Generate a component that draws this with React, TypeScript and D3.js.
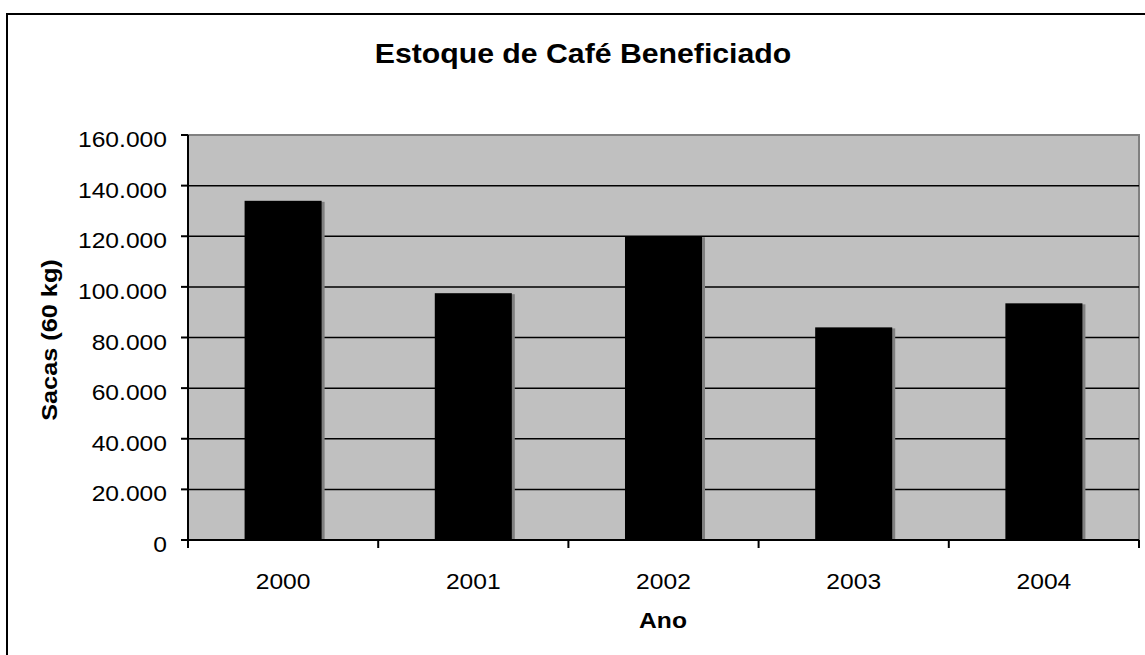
import React from "react";
import * as d3 from "d3";

const categories = ["2000", "2001", "2002", "2003", "2004"];
const values = [134000, 97500, 120000, 84000, 93500];
const yTicks = [0, 20000, 40000, 60000, 80000, 100000, 120000, 140000, 160000];

const W = 1145, H = 655;
const left = 188, right = 1139, top = 135, bottom = 540;

const fmt = (v: number) => (v === 0 ? "0" : d3.format(",")(v).replace(/,/g, "."));

function T(props: { x: number; y: number; sx?: number; rot?: number; size: number; bold?: boolean; anchor?: string; children: React.ReactNode }) {
  const { x, y, sx = 1, rot = 0, size, bold, anchor = "middle", children } = props;
  return (
    <text
      transform={`translate(${x},${y}) rotate(${rot}) scale(${sx},1)`}
      textAnchor={anchor}
      fontSize={size}
      fontWeight={bold ? "bold" : "normal"}
    >
      {children}
    </text>
  );
}

export default function App() {
  const x = d3.scaleBand<string>().domain(categories).range([left, right]).paddingInner(0.595).paddingOuter(0.2975);
  const xb = d3.scaleBand<string>().domain(categories).range([left, right]);
  const y = d3.scaleLinear().domain([0, 160000]).range([bottom, top]);
  const font = "Arial, 'Liberation Sans', sans-serif";
  return (
    <svg width={W} height={H} style={{ position: "absolute", left: 0, top: 0 }} fontFamily={font}>
      <rect x={0} y={0} width={W} height={H} fill="#fff" />
      <rect x={7} y={14} width={W + 10} height={H + 10} fill="#fff" stroke="#000" strokeWidth={2} />
      <T x={583} y={63} size={28} sx={1.08} bold>Estoque de Café Beneficiado</T>
      <rect x={left} y={top} width={right - left} height={bottom - top} fill="#c0c0c0" stroke="#808080" strokeWidth={2} />
      {yTicks.slice(1, -1).map((t) => (
        <line key={t} x1={left} x2={right} y1={y(t)} y2={y(t)} stroke="#000" strokeWidth={1.5} />
      ))}
      {categories.map((c, i) => (
        <g key={c}>
          <rect x={x(c)! + 3} y={y(values[i]) + 1} width={x.bandwidth()} height={bottom - y(values[i]) - 1} fill="#808080" />
          <rect x={x(c)} y={y(values[i])} width={x.bandwidth()} height={bottom - y(values[i])} fill="#000" />
        </g>
      ))}
      <line x1={left} x2={left} y1={top} y2={bottom} stroke="#000" strokeWidth={2} />
      <line x1={left} x2={right} y1={bottom} y2={bottom} stroke="#000" strokeWidth={2} />
      {yTicks.map((t) => (
        <g key={t}>
          <line x1={left - 7} x2={left} y1={y(t)} y2={y(t)} stroke="#000" strokeWidth={2} />
          <T x={167} y={y(t) + 12} size={22} sx={1.12} anchor="end">{fmt(t)}</T>
        </g>
      ))}
      {[...categories.map((c) => xb(c)!), right].map((p, i) => (
        <line key={i} x1={p} x2={p} y1={bottom} y2={bottom + 8} stroke="#000" strokeWidth={2} />
      ))}
      {categories.map((c) => (
        <T key={c} x={xb(c)! + xb.bandwidth() / 2} y={589} size={22} sx={1.12}>{c}</T>
      ))}
      <T x={663} y={628} size={22} sx={1.12} bold>Ano</T>
      <T x={57} y={340} rot={-90} size={22} sx={1.15} bold>Sacas (60 kg)</T>
    </svg>
  );
}
